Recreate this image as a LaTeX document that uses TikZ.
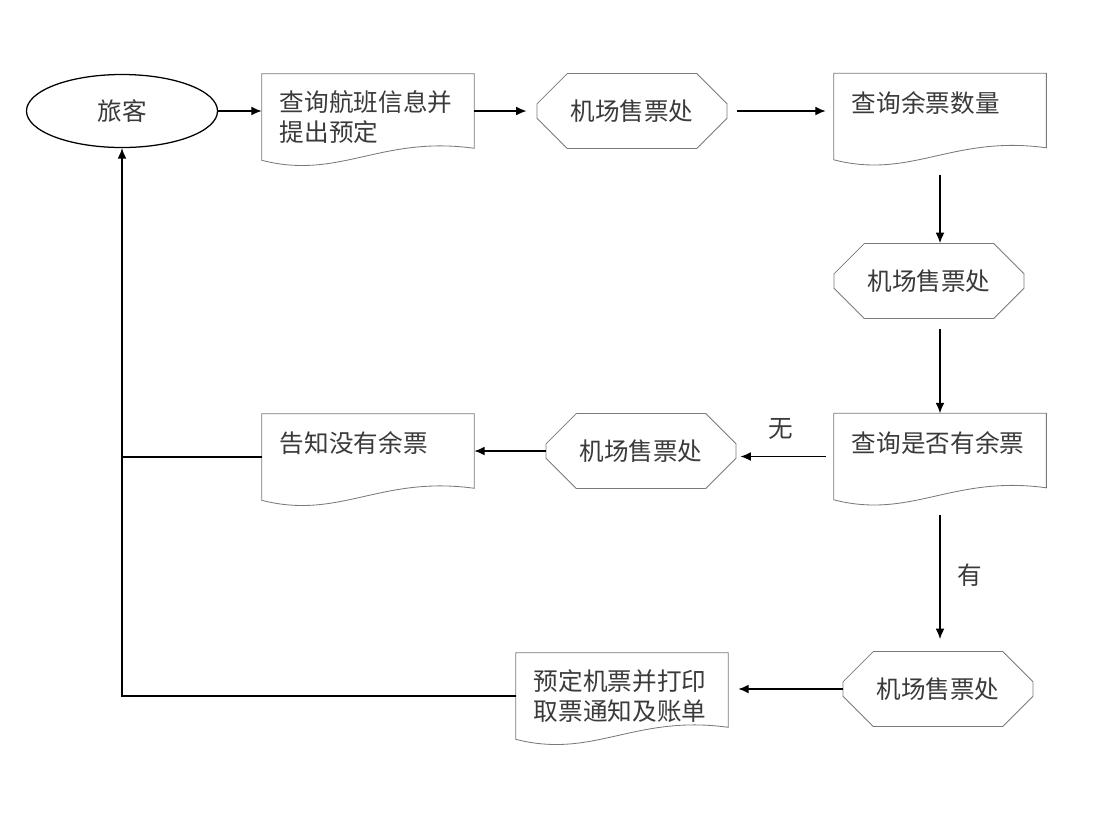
\documentclass[tikz,border=0pt]{standalone}
\usepackage{fontspec}
\setmainfont{Noto Sans CJK SC}
\usetikzlibrary{
  arrows.meta,
  calc,
  shapes.geometric,
  shapes.misc
}
\definecolor{ink}{HTML}{000000}
\definecolor{frame}{HTML}{7A7A7A}
\definecolor{txt}{HTML}{3A3A3A}
\tikzset{
  flow/.style={
    -{Latex[length=2.6mm,width=2.2mm]},
    line width=0.9pt,
    draw=ink
  },
  plain/.style={
    line width=0.9pt,
    draw=ink
  },
  docline/.style={
    draw=frame,
    line width=0.6pt,
    fill=white
  },
  person/.style={
    ellipse,
    draw=ink,
    line width=0.9pt,
    fill=white,
    minimum width=47.75mm,
    minimum height=18.25mm,
    text=txt,
    font=\fontsize{17.5}{21}\selectfont
  },
  office/.style={
    chamfered rectangle,
    chamfered rectangle xsep=4mm,
    chamfered rectangle ysep=4.75mm,
    draw=frame,
    line width=0.6pt,
    fill=white,
    minimum width=47.5mm,
    minimum height=18.75mm,
    inner sep=0pt,
    text=txt,
    font=\fontsize{17.5}{21}\selectfont
  },
  doc/.style={
    rectangle,
    minimum width=53mm,
    minimum height=21.5mm,
    text width=44mm,
    inner xsep=4.5mm,
    inner ysep=0pt,
    align=left,
    text=txt,
    font=\fontsize{17.5}{21}\selectfont
  },
  tag/.style={
    text=txt,
    font=\fontsize{17.5}{21}\selectfont
  }
}
% Document outline with wavy bottom, drawn from the node's anchors.
\newcommand{\docframe}[1]{%
  \draw[docline] (#1.north west) -- (#1.north east)
    -- ($(#1.south east)+(0,-12)$)
    .. controls +(-94,-13) and +(78,20) .. (#1.south west) -- cycle;
}

\begin{document}
\begin{tikzpicture}[x=0.025cm,y=-0.025cm]
  \fill[white] (0,0) rectangle (1108,831);
  \useasboundingbox (0,0) rectangle (1108,831);

  % Passenger and ticket offices.
  \node[person] (trav) at (122,111) {旅客};
  \node[office] (o1) at (632,111) {机场售票处};
  \node[office] (o2) at (929,281) {机场售票处};
  \node[office] (o3) at (641,451) {机场售票处};
  \node[office] (o4) at (938,689) {机场售票处};

  % Documents: place frames first, then the texts.
  \path (368,117) coordinate (c1) (940,116.5) coordinate (c2)
        (940,456.5) coordinate (c3) (368,457) coordinate (c4)
        (622,696) coordinate (c5);
  \node[doc] (q1) at (c1) {};
  \node[doc] (q2) at (c2) {};
  \node[doc] (q3) at (c3) {};
  \node[doc] (q4) at (c4) {};
  \node[doc] (q5) at (c5) {};
  \foreach \d in {q1,q2,q3,q4,q5}{\docframe{\d}}
  \node[doc] at (q1) {查询航班信息并\\提出预定};
  \node[doc] at (q2) {查询余票数量\\\mbox{}};
  \node[doc] at (q3) {查询是否有余票\\\mbox{}};
  \node[doc] at (q4) {告知没有余票\\\mbox{}};
  \node[doc] at (q5) {预定机票并打印\\取票通知及账单};

  % Connectors.
  \draw[flow] (trav.east) -- (trav.east -| q1.west);
  \draw[flow, shorten >=2.5mm] (o1.west -| q1.east) -- (o1.west);
  \draw[flow, shorten <=2.5mm, shorten >=2mm]
    (o1.east) -- (o1.east -| q2.west);
  \draw[flow, shorten <=3.75mm] (q2.south) -- (q2.south |- o2.north);
  \draw[flow, shorten <=2.5mm] (o2.south -| q3.north) -- (q3.north);
  \draw[flow, shorten <=2mm, shorten >=1mm]
    (q3.west) -- (q3.west -| o3.east)
    node[tag, midway, above=3mm, xshift=-1mm] {无};
  \draw[flow] (o3.west) -- (o3.west -| q4.east);
  \draw[flow, shorten <=3.75mm, shorten >=3mm]
    (q3.south) -- (q3.south |- o4.north)
    node[tag, midway, right=3mm] {有};
  \draw[flow, shorten >=2.5mm] (o4.west) -- (o4.west -| q5.east);
  \draw[flow] (q5.west) -| (trav.south);
  \draw[plain] (q4.west) -- (q4.west -| trav.south);
\end{tikzpicture}
\end{document}
